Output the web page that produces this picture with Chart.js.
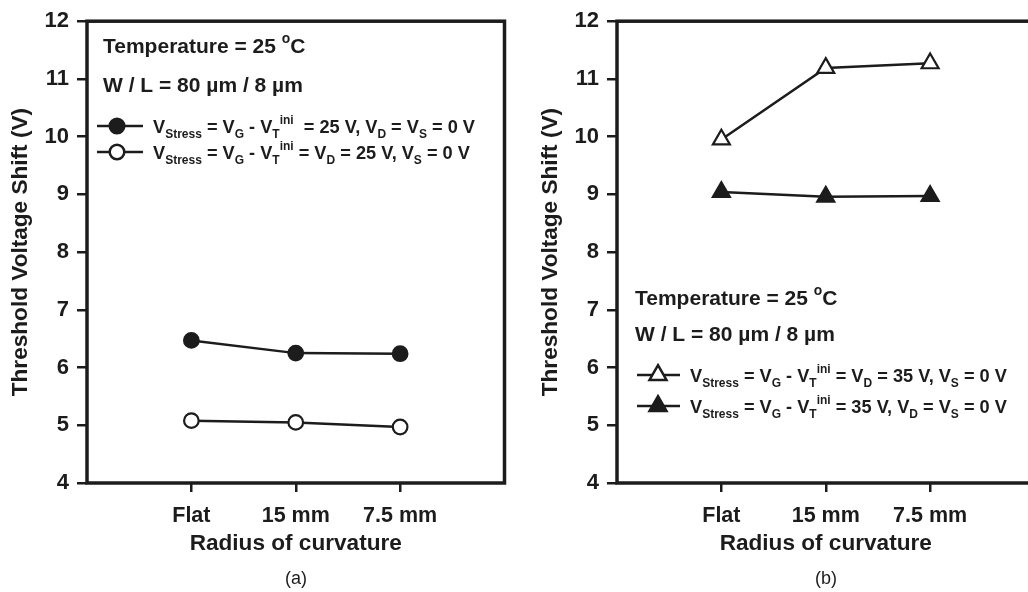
<!DOCTYPE html>
<html>
<head>
<meta charset="utf-8">
<script src="https://cdn.jsdelivr.net/npm/chart.js@4/dist/chart.umd.min.js"></script>
<style>
  html, body { margin: 0; padding: 0; background: #fff; }
  body { width: 1028px; height: 592px; overflow: hidden; position: relative; }
  canvas { position: absolute; top: 0; }
  .cap { position: absolute; top: 568px; width: 60px; margin-left: -30px; text-align: center;
         font: 18px "Liberation Sans", Arial, sans-serif; color: #1c1c1c; }
</style>
</head>
<body>
<canvas id="chartA" width="520" height="592" style="left:0px"></canvas>
<canvas id="chartB" width="520" height="592" style="left:530px"></canvas>
<div class="cap" style="left:296px">(a)</div>
<div class="cap" style="left:826px">(b)</div>
<script>
// values
const categories = ['Flat', '15 mm', '7.5 mm'];
const yMin = 4;
const yMax = 12;

// (a) 25 V stress
const shiftGate25 = [6.47, 6.25, 6.24];
const shiftGateDrain25 = [5.08, 5.05, 4.97];
// (b) 35 V stress
const shiftGateDrain35 = [9.95, 11.19, 11.27];
const shiftGate35 = [9.04, 8.96, 8.97];

const INK = '#1c1c1c';
const FONT = '"Liberation Sans", Arial, sans-serif';

// text pieces: [text, kind] kind = '' | 'sub' | 'sup'
const tempNote = [['Temperature = 25 ', ''], ['o', 'sup'], ['C', '']];
const sizeNote = [['W / L = 80 \u00b5m / 8 \u00b5m', '']];
const labelGate25 = [['V', ''], ['Stress', 'sub'], [' = V', ''], ['G', 'sub'], [' - V', ''], ['T', 'sub'], ['ini', 'sup'],
  ['  = 25 V, V', ''], ['D', 'sub'], [' = V', ''], ['S', 'sub'], [' = 0 V', '']];
const labelGateDrain25 = [['V', ''], ['Stress', 'sub'], [' = V', ''], ['G', 'sub'], [' - V', ''], ['T', 'sub'], ['ini', 'sup'],
  [' = V', ''], ['D', 'sub'], [' = 25 V, V', ''], ['S', 'sub'], [' = 0 V', '']];
const labelGateDrain35 = [['V', ''], ['Stress', 'sub'], [' = V', ''], ['G', 'sub'], [' - V', ''], ['T', 'sub'], ['ini', 'sup'],
  [' = V', ''], ['D', 'sub'], [' = 35 V, V', ''], ['S', 'sub'], [' = 0 V', '']];
const labelGate35 = [['V', ''], ['Stress', 'sub'], [' = V', ''], ['G', 'sub'], [' - V', ''], ['T', 'sub'], ['ini', 'sup'],
  [' = 35 V, V', ''], ['D', 'sub'], [' = V', ''], ['S', 'sub'], [' = 0 V', '']];

function toPoints(values) {
  return values.map((v, i) => ({x: i + 1, y: v}));
}

function drawRich(ctx, parts, x, yMid, size) {
  const base = yMid + size * 0.358;
  let cx = x;
  parts.forEach(([t, kind]) => {
    let s = size, y = base;
    if (kind === 'sub') { s = size * 0.66; y = base + size * 0.28; }
    if (kind === 'sup') { s = size * 0.66; y = base - size * 0.46; }
    ctx.font = 'bold ' + s + 'px ' + FONT;
    ctx.fillText(t, cx, y);
    cx += ctx.measureText(t).width;
  });
}

const notesPlugin = {
  id: 'notes',
  beforeDatasetsDraw(chart) {
    const {ctx, chartArea: a} = chart;
    ctx.save();
    ctx.strokeStyle = INK;
    ctx.lineWidth = 3.5;
    ctx.strokeRect(a.left, a.top, a.right - a.left, a.bottom - a.top);
    ctx.restore();
  },
  afterDraw(chart, args, opts) {
    const ctx = chart.ctx;
    ctx.save();
    ctx.fillStyle = INK;
    ctx.textBaseline = 'alphabetic';
    opts.notes.forEach(n => drawRich(ctx, n.parts, n.x, n.y, n.size));
    opts.keys.forEach(k => {
      const ds = chart.data.datasets[k.index];
      ctx.strokeStyle = INK;
      ctx.lineWidth = 2.5;
      ctx.beginPath();
      ctx.moveTo(k.x0, k.y);
      ctx.lineTo(k.x1, k.y);
      ctx.stroke();
      ctx.fillStyle = ds.pointBackgroundColor;
      ctx.strokeStyle = INK;
      Chart.helpers.drawPoint(ctx, {
        pointStyle: ds.pointStyle, radius: ds.pointRadius, rotation: 0, borderWidth: 2
      }, k.xm, k.y);
      ctx.fillStyle = INK;
      drawRich(ctx, k.parts, k.xt, k.y, k.size);
    });
    ctx.restore();
  }
};

function lineSet(values, style, filled) {
  return {
    data: toPoints(values),
    borderColor: INK,
    borderWidth: 2.5,
    pointStyle: style,
    pointRadius: style === 'triangle' ? 9.8 : 7.3,
    pointBorderWidth: 2.2,
    pointBorderColor: INK,
    pointBackgroundColor: filled ? INK : '#ffffff',
    tension: 0
  };
}

function makeChart(id, datasets, notes, keys) {
  const el = document.getElementById(id);
  return new Chart(el.getContext('2d'), {
    type: 'line',
    data: {datasets: datasets},
    options: {
      responsive: false,
      animation: false,
      devicePixelRatio: 1,
      layout: {padding: {left: 7, top: 14, right: 15.5, bottom: 35}},
      plugins: {
        legend: {display: false},
        tooltip: {enabled: false},
        notes: {notes: notes, keys: keys}
      },
      scales: {
        x: {
          type: 'linear',
          min: 0,
          max: categories.length + 1,
          afterBuildTicks: (scale) => {
            scale.ticks = categories.map((c, i) => ({value: i + 1}));
          },
          afterFit: (scale) => { scale.height = 74; },
          border: {display: false},
          grid: {display: true, drawOnChartArea: false, drawTicks: true, tickLength: 9, lineWidth: 2.5, color: INK},
          ticks: {
            padding: 11,
            color: INK,
            font: {family: FONT, size: 21.5, weight: 'bold'},
            callback: (v) => categories[v - 1] || ''
          },
          title: {
            display: true,
            text: 'Radius of curvature',
            color: INK,
            padding: {top: 0, bottom: 0},
            font: {family: FONT, size: 22.6, weight: 'bold'}
          }
        },
        y: {
          min: yMin,
          max: yMax,
          afterFit: (scale) => { scale.width = 80; },
          border: {display: false},
          grid: {display: true, drawOnChartArea: false, drawTicks: true, tickLength: 10, lineWidth: 2.5, color: INK},
          ticks: {
            stepSize: 1,
            padding: 8,
            color: INK,
            font: {family: FONT, size: 22, weight: 'bold'}
          },
          title: {
            display: true,
            text: 'Threshold Voltage Shift (V)',
            color: INK,
            padding: {top: 0, bottom: 0},
            font: {family: FONT, size: 22.6, weight: 'bold'}
          }
        }
      }
    },
    plugins: [notesPlugin]
  });
}

makeChart('chartA',
  [lineSet(shiftGate25, 'circle', true), lineSet(shiftGateDrain25, 'circle', false)],
  [{parts: tempNote, x: 103, y: 45, size: 21}, {parts: sizeNote, x: 103, y: 84, size: 21}],
  [
    {index: 0, parts: labelGate25, x0: 97, x1: 143, xm: 117, xt: 153, y: 126, size: 18.2},
    {index: 1, parts: labelGateDrain25, x0: 97, x1: 143, xm: 117, xt: 153, y: 152, size: 18.2}
  ]);

makeChart('chartB',
  [lineSet(shiftGateDrain35, 'triangle', false), lineSet(shiftGate35, 'triangle', true)],
  [{parts: tempNote, x: 105, y: 297, size: 21}, {parts: sizeNote, x: 105, y: 333, size: 21}],
  [
    {index: 0, parts: labelGateDrain35, x0: 107, x1: 150, xm: 128, xt: 160, y: 375, size: 18.2},
    {index: 1, parts: labelGate35, x0: 107, x1: 150, xm: 128, xt: 160, y: 406, size: 18.2}
  ]);
</script>
</body>
</html>
